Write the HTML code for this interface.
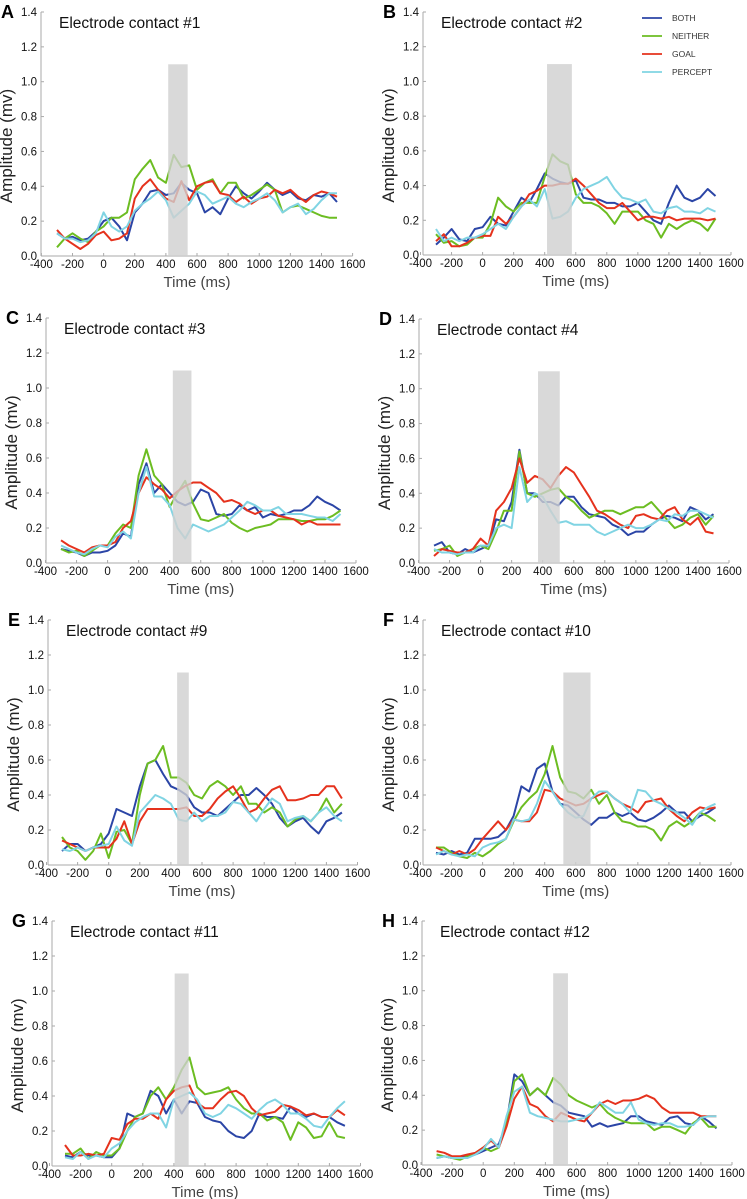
<!DOCTYPE html>
<html><head><meta charset="utf-8">
<style>
html,body{margin:0;padding:0;background:#fff;}
svg{display:block;font-family:"Liberation Sans",sans-serif;}
</style></head>
<body>
<svg id="fig" width="747" height="1199" viewBox="0 0 747 1199"></svg>
<script>
const times = [-300,-250,-200,-150,-100,-50,0,50,100,150,200,250,300,350,400,450,500,550,600,650,700,750,800,850,900,950,1000,1050,1100,1150,1200,1250,1300,1350,1400,1450,1500];
const seriesNames = ["BOTH","NEITHER","GOAL","PERCEPT"];
const seriesColors = ["#2b45a6","#6cbd22","#e5321d","#80d4e3"];
const panelLetters = ["A","B","C","D","E","F","G","H"];
const panelTitles = ["Electrode contact #1","Electrode contact #2","Electrode contact #3","Electrode contact #4","Electrode contact #9","Electrode contact #10","Electrode contact #11","Electrode contact #12"];
const windowStart = [415,415,420,370,440,520,405,450];
const windowEnd = [540,575,540,510,515,695,495,545];
const windowTop = 1.1;
const yTicks = [0,0.2,0.4,0.6,0.8,1.0,1.2,1.4];
const xTicks = [-400,-200,0,200,400,600,800,1000,1200,1400,1600];

const bothA=[.13,.10,.11,.09,.10,.14,.20,.22,.17,.09,.25,.30,.37,.38,.35,.36,.42,.38,.36,.25,.28,.24,.33,.40,.36,.33,.37,.42,.38,.35,.37,.33,.32,.35,.34,.36,.31];
const neitherA=[.05,.10,.13,.10,.08,.14,.17,.22,.22,.25,.44,.50,.55,.45,.42,.58,.51,.52,.38,.42,.44,.36,.42,.42,.33,.35,.38,.41,.38,.25,.28,.29,.27,.25,.23,.22,.22];
const goalA=[.15,.10,.07,.04,.07,.12,.14,.09,.10,.13,.33,.40,.44,.38,.33,.31,.43,.32,.40,.42,.43,.36,.35,.31,.34,.30,.33,.34,.38,.36,.38,.34,.31,.35,.37,.36,.34];
const perceptA=[.13,.10,.10,.08,.09,.13,.25,.17,.14,.17,.26,.30,.33,.37,.32,.22,.26,.30,.37,.35,.30,.32,.34,.30,.28,.31,.33,.36,.32,.25,.28,.30,.24,.27,.32,.36,.36];

const bothB=[.06,.10,.15,.09,.08,.15,.16,.22,.18,.17,.25,.33,.30,.38,.47,.44,.42,.41,.43,.33,.32,.32,.30,.30,.28,.28,.30,.25,.20,.18,.30,.40,.33,.31,.33,.38,.34];
const neitherB=[.12,.07,.08,.05,.06,.10,.10,.18,.33,.28,.25,.30,.30,.30,.45,.58,.54,.52,.35,.30,.30,.28,.24,.18,.25,.25,.25,.20,.18,.10,.18,.15,.18,.20,.18,.14,.21];
const goalB=[.08,.12,.05,.05,.07,.10,.11,.11,.22,.18,.22,.28,.35,.37,.40,.40,.41,.41,.44,.40,.35,.30,.27,.27,.30,.25,.20,.22,.22,.21,.22,.20,.21,.21,.21,.20,.21];
const perceptB=[.15,.08,.10,.08,.10,.10,.12,.15,.18,.15,.22,.28,.32,.28,.38,.21,.22,.25,.33,.38,.40,.42,.45,.38,.33,.32,.30,.32,.25,.24,.27,.28,.25,.25,.24,.27,.25];

const bothC=[.08,.07,.06,.04,.06,.06,.07,.10,.17,.15,.45,.57,.40,.45,.40,.35,.33,.35,.42,.40,.28,.27,.28,.33,.30,.32,.26,.28,.27,.28,.30,.30,.33,.38,.35,.33,.30];
const neitherC=[.08,.06,.07,.04,.07,.10,.10,.17,.22,.20,.50,.65,.50,.45,.32,.40,.47,.34,.25,.24,.26,.28,.23,.20,.18,.20,.21,.22,.25,.25,.25,.24,.24,.25,.25,.27,.30];
const goalC=[.13,.10,.08,.06,.09,.10,.10,.12,.20,.24,.40,.49,.45,.42,.37,.41,.44,.46,.46,.43,.40,.35,.36,.34,.30,.28,.30,.30,.27,.26,.25,.22,.24,.22,.22,.22,.22];
const perceptC=[.10,.08,.06,.05,.08,.10,.09,.15,.18,.14,.40,.55,.38,.38,.33,.20,.14,.22,.20,.18,.20,.22,.26,.30,.35,.33,.30,.30,.32,.28,.28,.28,.27,.26,.26,.24,.28];

const bothD=[.10,.12,.06,.05,.08,.06,.08,.10,.25,.24,.35,.65,.40,.40,.35,.35,.33,.38,.38,.32,.28,.27,.26,.22,.20,.16,.18,.18,.22,.25,.27,.26,.24,.32,.30,.25,.28];
const neitherD=[.07,.08,.10,.04,.06,.08,.10,.08,.18,.30,.30,.64,.40,.38,.40,.42,.43,.38,.35,.30,.26,.28,.30,.30,.28,.30,.32,.32,.35,.30,.25,.20,.22,.26,.28,.22,.27];
const goalD=[.04,.08,.07,.06,.06,.08,.14,.10,.30,.35,.43,.60,.46,.50,.48,.43,.50,.55,.52,.45,.38,.30,.28,.25,.22,.20,.27,.28,.26,.25,.30,.32,.25,.22,.26,.18,.17];
const perceptD=[.08,.06,.06,.05,.06,.06,.10,.10,.20,.22,.20,.55,.35,.40,.38,.30,.23,.24,.22,.22,.22,.18,.16,.18,.20,.22,.20,.20,.22,.25,.24,.28,.27,.30,.30,.28,.26];

const bothE=[.08,.12,.12,.08,.10,.12,.18,.32,.30,.28,.45,.58,.60,.52,.45,.43,.40,.33,.30,.30,.28,.32,.36,.40,.40,.44,.40,.35,.27,.22,.25,.27,.22,.18,.25,.27,.30];
const neitherE=[.16,.10,.08,.03,.08,.18,.04,.19,.20,.12,.40,.58,.60,.68,.50,.50,.47,.40,.38,.45,.48,.45,.40,.45,.35,.35,.30,.33,.30,.22,.26,.28,.25,.30,.38,.30,.35];
const goalE=[.14,.12,.10,.08,.10,.10,.10,.15,.25,.12,.25,.32,.32,.32,.32,.32,.33,.28,.28,.32,.38,.42,.45,.38,.30,.32,.38,.43,.45,.37,.37,.38,.40,.40,.45,.45,.38];
const perceptE=[.09,.08,.10,.08,.10,.11,.12,.22,.14,.11,.30,.35,.40,.38,.35,.26,.25,.30,.25,.28,.28,.30,.36,.35,.30,.25,.32,.38,.35,.25,.27,.28,.25,.30,.33,.28,.25];

const bothF=[.07,.06,.08,.06,.07,.15,.15,.15,.16,.20,.28,.45,.42,.55,.58,.42,.35,.34,.30,.26,.23,.27,.27,.30,.28,.30,.26,.25,.27,.30,.34,.30,.30,.25,.28,.30,.33];
const neitherF=[.10,.10,.07,.05,.04,.07,.05,.08,.12,.15,.25,.33,.38,.42,.52,.68,.50,.42,.41,.38,.43,.35,.40,.30,.25,.24,.22,.22,.20,.14,.22,.25,.22,.25,.30,.28,.25];
const goalF=[.10,.08,.06,.08,.06,.09,.15,.20,.25,.20,.26,.25,.25,.30,.43,.42,.38,.36,.34,.35,.38,.40,.42,.38,.35,.33,.30,.36,.37,.38,.32,.28,.25,.30,.33,.32,.33];
const perceptF=[.06,.08,.06,.05,.06,.05,.10,.12,.13,.15,.26,.25,.26,.35,.48,.42,.35,.30,.27,.28,.38,.42,.42,.38,.35,.30,.43,.42,.37,.35,.32,.30,.27,.23,.30,.33,.35];

const bothG=[.06,.05,.08,.06,.06,.05,.05,.10,.30,.28,.30,.43,.40,.30,.38,.30,.37,.36,.28,.26,.25,.20,.17,.16,.20,.30,.28,.28,.27,.34,.30,.28,.30,.28,.28,.25,.23];
const neitherG=[.07,.07,.10,.04,.08,.06,.06,.10,.20,.28,.30,.40,.45,.38,.45,.55,.62,.45,.41,.42,.43,.45,.38,.33,.30,.30,.26,.28,.25,.15,.25,.22,.16,.17,.25,.17,.16];
const goalG=[.12,.06,.06,.07,.06,.07,.16,.15,.24,.27,.27,.30,.27,.38,.43,.45,.46,.36,.33,.33,.38,.42,.43,.40,.33,.29,.30,.31,.35,.34,.32,.29,.30,.28,.28,.32,.29];
const perceptG=[.05,.04,.08,.04,.06,.05,.10,.13,.20,.25,.28,.30,.30,.22,.38,.40,.42,.38,.30,.28,.30,.35,.33,.30,.27,.32,.36,.38,.35,.30,.30,.27,.23,.22,.28,.33,.37];

const bothH=[.04,.05,.04,.04,.05,.06,.08,.10,.12,.24,.52,.48,.40,.44,.40,.36,.34,.30,.29,.28,.22,.24,.22,.23,.24,.28,.28,.25,.24,.23,.27,.28,.24,.23,.28,.25,.21];
const neitherH=[.06,.05,.04,.03,.05,.07,.10,.08,.10,.24,.48,.52,.40,.44,.40,.50,.46,.40,.37,.35,.33,.35,.30,.27,.25,.24,.24,.24,.20,.22,.22,.20,.18,.24,.27,.22,.22];
const goalH=[.08,.07,.05,.05,.06,.07,.10,.14,.10,.22,.38,.45,.35,.33,.28,.25,.30,.28,.26,.25,.30,.35,.37,.35,.37,.37,.38,.40,.38,.33,.30,.30,.30,.30,.28,.28,.28];
const perceptH=[.04,.05,.04,.04,.04,.06,.09,.15,.10,.28,.42,.45,.30,.28,.27,.26,.25,.25,.26,.27,.30,.36,.33,.30,.30,.36,.26,.24,.23,.24,.24,.22,.22,.23,.27,.28,.28];

const panelData = [
  [bothA,neitherA,goalA,perceptA],[bothB,neitherB,goalB,perceptB],
  [bothC,neitherC,goalC,perceptC],[bothD,neitherD,goalD,perceptD],
  [bothE,neitherE,goalE,perceptE],[bothF,neitherF,goalF,perceptF],
  [bothG,neitherG,goalG,perceptG],[bothH,neitherH,goalH,perceptH]];

const layout = [
  [41,41.4,352.6,12,256],[423,420.5,731,12,255],
  [46,45.5,356,318,563],[419,418.5,729,319,563],
  [48,46.5,357.5,620,865],[423,420.5,731,620,865],
  [52,49.5,360.5,921,1166],[422,421,732,921,1165]];

const NS="http://www.w3.org/2000/svg";
const svg=document.getElementById('fig');
function mk(tag,attrs,parent){const e=document.createElementNS(NS,tag);for(const k in attrs)e.setAttribute(k,attrs[k]);(parent||svg).appendChild(e);return e;}

panelData.forEach((series,p)=>{
  const L=layout[p];
  const xs=t=>L[1]+(t+400)/2000*(L[2]-L[1]);
  const ys=v=>L[4]-v/1.4*(L[4]-L[3]);
  const g=mk('g',{});
  
  
  const ya=mk('line',{x1:L[0],y1:L[3],x2:L[0],y2:L[4],stroke:'#aaa','stroke-width':1},g);
  
  
  const xa=mk('line',{x1:L[0],y1:L[4],x2:L[2],y2:L[4],stroke:'#aaa','stroke-width':1},g);
  
  
  yTicks.forEach(v=>{
    mk('line',{x1:L[0],x2:L[0]+3,y1:ys(v),y2:ys(v),stroke:'#aaa'},g);
    const t=mk('text',{x:L[0]-4,y:ys(v)+4,'font-size':11.5,'text-anchor':'end',fill:'#111'},g);
    t.textContent=v.toFixed(1);
    
    
  });
  xTicks.forEach(v=>{
    mk('line',{x1:xs(v),x2:xs(v),y1:L[4],y2:L[4]-3,stroke:'#aaa'},g);
    const t=mk('text',{x:xs(v),y:L[4]+12,'font-size':11.5,'text-anchor':'middle',fill:'#111'},g);
    t.textContent=v;
    
    
  });
  const xl=mk('text',{x:(L[1]+L[2])/2,y:L[4]+31,'font-size':15,'text-anchor':'middle',fill:'#444'},g);
  xl.textContent='Time (ms)';
  
  
  const cy=(L[3]+L[4])/2+12;
  const ax=L[0]-29;
  const yl=mk('text',{x:ax,y:cy,'font-size':17,'text-anchor':'middle',fill:'#222',transform:`rotate(-90 ${ax} ${cy})`},g);
  yl.textContent='Amplitude (mv)';
  
  
  const lt=mk('text',{x:L[0]-40,y:L[3]+6,'font-size':18,'font-weight':'bold',fill:'#000'},g);
  lt.textContent=panelLetters[p];
  
  
  const tt=mk('text',{x:L[0]+18,y:L[3]+16,'font-size':15.5,fill:'#111'},g);
  tt.textContent=panelTitles[p];
  
  
  series.forEach((vals,s)=>{
    const d=vals.map((v,i)=>(i?'L':'M')+xs(times[i]).toFixed(1)+' '+ys(v).toFixed(1)).join(' ');
    const path=mk('path',{d:d,fill:'none',stroke:seriesColors[s],'stroke-width':2,'stroke-linejoin':'round'},g);
    
    
  });
  const bar=mk('rect',{x:xs(windowStart[p]),y:ys(windowTop),width:xs(windowEnd[p])-xs(windowStart[p]),height:ys(0)-ys(windowTop),fill:'#cfcfcf','fill-opacity':0.8},g);
  
  
});

const lg=mk('g',{});


seriesNames.forEach((n,i)=>{
  const y=18+i*18;
  const ln=mk('line',{x1:642,x2:662,y1:y,y2:y,stroke:seriesColors[i],'stroke-width':1.8},lg);
  
  
  const t=mk('text',{x:672,y:y+3,'font-size':8.5,fill:'#333'},lg);
  t.textContent=n;
  
  
});
</script>
</body></html>
